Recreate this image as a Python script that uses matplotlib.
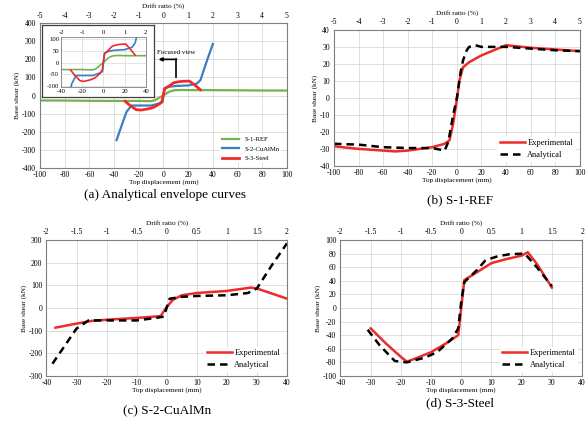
import matplotlib
matplotlib.use("Agg")
import matplotlib.pyplot as plt
from matplotlib.ticker import FuncFormatter

plt.rcParams['font.family'] = ['Liberation Serif', 'DejaVu Serif']
plt.rcParams['axes.unicode_minus'] = False

# S-1-REF
ref_exp_x = [-100, -80, -60, -50, -40, -30, -20, -10, -6, -3, 0, 2, 5, 10, 20, 30, 40, 60, 80, 100]
ref_exp_y = [-28.5, -30, -31, -31.5, -31, -30, -29, -27, -25, -15, -1, 10, 18, 21, 25, 28, 31, 29.5, 28.5, 27.5]
ref_ana_x = [-100, -80, -60, -40, -20, -10, -7, -3, 0, 3, 5, 8, 10, 15, 20, 40, 60, 80, 100]
ref_ana_y = [-27, -27.5, -29, -29.5, -29.5, -31, -26, -10, 0, 15, 22, 28, 30, 31, 30, 30, 29, 28, 27.5]

# S-2-CuAlMn
cu_exp_x = [-37, -30, -25, -20, -10, -3, -2, 0, 2, 5, 10, 20, 28, 30, 40]
cu_exp_y = [-87, -69, -57, -52, -44, -37, -35, 4, 35, 56, 66, 75, 90, 86, 41]
cu_ana_x = [-38, -30, -26, -20, -10, -3, -1, 1, 5, 10, 20, 27, 30, 35, 40]
cu_ana_y = [-246, -91, -55, -55, -55, -43, -38, 41, 49, 53, 56, 66, 86, 189, 285]

# S-3-Steel
st_exp_x = [-30, -25, -20, -18, -15, -10, -5, -1, 1, 5, 10, 15, 20, 22, 25, 30]
st_exp_y = [-30, -52, -72, -79, -74, -65, -52, -40, 41, 52, 66, 72, 77, 82, 65, 30]
st_ana_x = [-31, -27, -22, -18, -12, -8, -3, -1, 0, 1, 5, 8, 12, 16, 21, 25, 30]
st_ana_y = [-32, -55, -78, -80, -73, -65, -45, -30, 10, 38, 55, 70, 76, 79, 80, 60, 32]

green = '#76B04F'
blue = '#3B7DC4'
red = '#EE2B2B'
fs = 5.2
tfs = 5.6
fmt = FuncFormatter(lambda v, p: '{:g}'.format(round(v, 2)))


def style(ax, xlim, ylim, xstep, ystep, dstep, ylab=True):
    ax.set_xlim(*xlim)
    ax.set_ylim(*ylim)
    ax.set_xticks(list(range(xlim[0], xlim[1] + 1, xstep)))
    ax.set_yticks(list(range(ylim[0], ylim[1] + 1, ystep)))
    ax.grid(True, color='#D9D9D9', lw=0.6)
    ax.set_axisbelow(True)
    ax.tick_params(axis='x', length=0, labelsize=tfs, pad=2.2)
    ax.tick_params(axis='y', length=0, labelsize=tfs, pad=3)
    for s in ax.spines.values():
        s.set_color('#7F7F7F')
        s.set_linewidth(0.8)
    sec = ax.secondary_xaxis('top', functions=(lambda x: x / 20, lambda x: x * 20))
    n = int(round((xlim[1] - xlim[0]) / 20 / dstep))
    sec.set_xticks([xlim[0] / 20 + i * dstep for i in range(n + 1)])
    sec.xaxis.set_major_formatter(fmt)
    sec.tick_params(length=0, labelsize=tfs, pad=2.5)
    sec.spines['top'].set_visible(False)
    sec.set_xlabel('Drift ratio (%)', fontsize=fs, labelpad=3)
    ax.set_xlabel('Top displacement (mm)', fontsize=fs, labelpad=0.3)
    if ylab:
        ax.set_ylabel('Base shear (kN)', fontsize=fs, labelpad=1)
    return sec


fig = plt.figure(figsize=(5.88, 4.21), dpi=100)

# (a)
axa = fig.add_axes([0.068, 0.601, 0.420, 0.344])
style(axa, (-100, 100), (-400, 400), 20, 100, 1)
axa.plot(ref_ana_x, ref_ana_y, color=green, lw=1.6, label='S-1-REF')
axa.plot(cu_ana_x, cu_ana_y, color=blue, lw=1.6, label='S-2-CuAlMn')
axa.plot(st_ana_x, st_ana_y, color=red, lw=2.0, label='S-3-Steel')
axa.legend(loc='lower right', fontsize=4.8, frameon=True, edgecolor='none',
           framealpha=1, handlelength=2.5, borderpad=0.3, labelspacing=0.6,
           bbox_to_anchor=(0.99, 0.01))
axa.plot([10, 10], [105, 200], color='black', lw=1.2)
axa.annotate('', xy=(-4, 200), xytext=(10.5, 200),
             arrowprops=dict(arrowstyle='-|>', color='black', lw=1.2,
                             mutation_scale=5, shrinkA=0, shrinkB=0))
axa.text(10, 225, 'Focused view', fontsize=5, ha='center', va='bottom')

bg = fig.add_axes([0.0717, 0.770, 0.190, 0.171])
bg.set_xticks([])
bg.set_yticks([])
bg.set_facecolor('white')
for s in bg.spines.values():
    s.set_color('#404040')
    s.set_linewidth(0.9)

ins = fig.add_axes([0.104, 0.793, 0.144, 0.119])
ins.set_xlim(-40, 40)
ins.set_ylim(-105, 110)
ins.set_xticks([-40, -20, 0, 20, 40])
ins.set_yticks([-100, -50, 0, 50, 100])
ins.grid(True, color='#D9D9D9', lw=0.5)
ins.set_axisbelow(True)
ins.tick_params(length=0, labelsize=4.8, pad=1.5)
for s in ins.spines.values():
    s.set_color('#7F7F7F')
    s.set_linewidth(0.6)
isec = ins.secondary_xaxis('top', functions=(lambda x: x / 20, lambda x: x * 20))
isec.set_xticks([-2, -1, 0, 1, 2])
isec.xaxis.set_major_formatter(fmt)
isec.tick_params(length=0, labelsize=4.8, pad=1.5)
isec.spines['top'].set_visible(False)
ins.plot(ref_ana_x, ref_ana_y, color=green, lw=1.2)
ins.plot(cu_ana_x, cu_ana_y, color=blue, lw=1.2)
ins.plot(st_ana_x, st_ana_y, color=red, lw=1.2)


def pair(ax, ex, ey, axx, ayy):
    ax.plot(ex, ey, color=red, lw=1.8, label='Experimental')
    ax.plot(axx, ayy, color='black', lw=1.8, ls=(0, (3, 2)), label='Analytical')
    ax.legend(loc='lower right', fontsize=6, frameon=True, edgecolor='none',
              framealpha=1, handlelength=3, borderpad=0.3, labelspacing=0.5,
              handletextpad=0.3, bbox_to_anchor=(1.0, 0.0))


# (b)
axb = fig.add_axes([0.568, 0.606, 0.418, 0.323])
style(axb, (-100, 100), (-40, 40), 20, 10, 1)
pair(axb, ref_exp_x, ref_exp_y, ref_ana_x, ref_ana_y)

# (c)
axc = fig.add_axes([0.079, 0.107, 0.409, 0.323])
style(axc, (-40, 40), (-300, 300), 10, 100, 0.5)
pair(axc, cu_exp_x, cu_exp_y, cu_ana_x, cu_ana_y)

# (d)
axd = fig.add_axes([0.579, 0.107, 0.411, 0.323])
style(axd, (-40, 40), (-100, 100), 10, 20, 0.5)
pair(axd, st_exp_x, st_exp_y, st_ana_x, st_ana_y)

fig.text(0.281, 0.538, '(a) Analytical envelope curves', fontsize=9.5, ha='center', va='center')
fig.text(0.782, 0.525, '(b) S-1-REF', fontsize=9.5, ha='center', va='center')
fig.text(0.284, 0.026, '(c) S-2-CuAlMn', fontsize=9.5, ha='center', va='center')
fig.text(0.782, 0.043, '(d) S-3-Steel', fontsize=9.5, ha='center', va='center')

fig.savefig('out.png', dpi=100)
